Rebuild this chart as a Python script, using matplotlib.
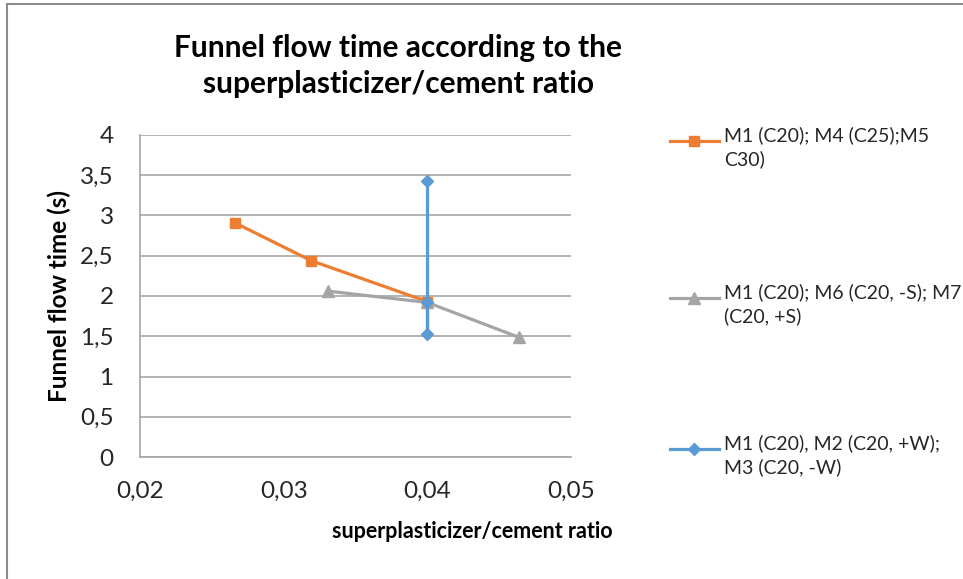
import matplotlib
matplotlib.use("Agg")
import matplotlib.pyplot as plt
from matplotlib.patches import Rectangle
from matplotlib.ticker import FuncFormatter

plt.rcParams["font.family"] = ["Lato", "DejaVu Sans"]

# superplasticizer/cement ratio vs funnel flow time (s)
sp_strength = [0.0266, 0.0319, 0.0400]
time_strength = [2.91, 2.44, 1.93]
label_strength = "M1 (C20); M4 (C25);M5\nC30)"

sp_sand = [0.0331, 0.0400, 0.0464]
time_sand = [2.06, 1.92, 1.485]
label_sand = "M1 (C20); M6 (C20, -S); M7\n(C20, +S)"

sp_water = [0.0400, 0.0400, 0.0400]
time_water = [1.93, 1.53, 3.43]
label_water = "M1 (C20), M2 (C20, +W);\nM3 (C20, -W)"

x_ticks = [0.02, 0.03, 0.04, 0.05]
y_ticks = [0, 0.5, 1, 1.5, 2, 2.5, 3, 3.5, 4]

W, H = 963, 579
fig = plt.figure(figsize=(W / 100, H / 100), dpi=100)

# chart frame
fig.patches.append(Rectangle((7 / W, -0.1), 1.2, 1.1 - 4 / H,
                             transform=fig.transFigure, fill=False,
                             edgecolor="#8c8c8c", linewidth=1.5))

ax = fig.add_axes([140 / W, (H - 457) / H, 431 / W, 322 / H])

l1, = ax.plot(sp_strength, time_strength, color="#ED7D31", linewidth=2.3,
              marker="s", markersize=6.5, zorder=3)
l2, = ax.plot(sp_sand, time_sand, color="#A5A5A5", linewidth=2.3,
              marker="^", markersize=8, zorder=4)
l3, = ax.plot(sp_water, time_water, color="#5B9BD5", linewidth=2.3,
              marker="D", markersize=6, zorder=5)

ax.set_xlim(0.02, 0.05)
ax.set_ylim(0, 4)
ax.set_xticks(x_ticks)
ax.set_yticks(y_ticks)
comma = FuncFormatter(lambda v, p: ("%g" % v).replace(".", ","))
ax.xaxis.set_major_formatter(comma)
ax.yaxis.set_major_formatter(comma)
ax.tick_params(axis="both", length=0, labelsize=17.5, labelcolor="#262626")
ax.tick_params(axis="y", pad=19)
ax.tick_params(axis="x", pad=17)

ax.grid(axis="y", color="#a6a6a6", linewidth=1.2)
ax.set_axisbelow(True)
for side in ("top", "right"):
    ax.spines[side].set_visible(False)
for side in ("left", "bottom"):
    ax.spines[side].set_color("#a6a6a6")
    ax.spines[side].set_linewidth(1.2)

ax.set_ylabel("Funnel flow time (s)", fontsize=17.5, fontweight="bold",
              color="black")
ax.yaxis.set_label_coords((71 - 140) / 431, 0.5)
ax.set_xlabel("superplasticizer/cement ratio", fontsize=15.5,
              fontweight="bold", color="black")
ax.xaxis.set_label_coords((472 - 140) / 431, -(521 - 457) / 322)

fig.text(398 / W, 1 - 66 / H,
         "Funnel flow time according to the\nsuperplasticizer/cement ratio",
         ha="center", va="center", fontsize=21.5, fontweight="bold",
         linespacing=1.38)

# one legend block per series, marker line level with the first text line
entries = [(l1, label_strength, 126), (l2, label_sand, 283), (l3, label_water, 434)]
for k, (handle, text, top) in enumerate(entries):
    leg = ax.legend([handle], [text], loc="upper left",
                    bbox_to_anchor=(670 / W, 1 - top / H),
                    bbox_transform=fig.transFigure, frameon=False,
                    fontsize=14, handlelength=2.5, handleheight=2.8,
                    handletextpad=0.3, borderpad=0, borderaxespad=0)
    for t in leg.get_texts():
        t.set_color("#262626")
        t.set_linespacing(1.45)
    if k < len(entries) - 1:
        ax.add_artist(leg)

fig.savefig("out.png", dpi=100)
